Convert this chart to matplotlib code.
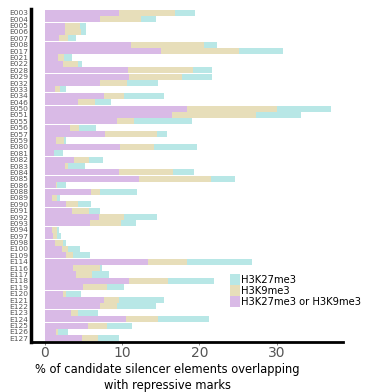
import numpy as np
import matplotlib
matplotlib.use("Agg")
import matplotlib.pyplot as plt
from matplotlib.patches import Patch

# Roadmap epigenomes, listed top to bottom
samples = [
    "E003", "E004", "E005", "E006", "E007", "E008", "E017", "E021", "E022",
    "E028", "E029", "E032", "E033", "E034", "E046", "E050", "E051", "E055",
    "E056", "E057", "E059", "E080", "E081", "E082", "E083", "E084", "E085",
    "E086", "E088", "E089", "E090", "E091", "E092", "E093", "E094", "E097",
    "E098", "E100", "E109", "E114", "E116", "E117", "E118", "E119", "E120",
    "E121", "E122", "E123", "E124", "E125", "E126", "E127",
]

# stacked segment widths (%)
either_mark = [
    9.6, 7.1, 2.6, 2.6, 1.8, 11.1, 15.1, 1.7, 2.3,
    10.7, 10.9, 7.2, 1.3, 7.6, 4.3, 18.4, 16.4, 9.3,
    3.2, 7.8, 1.4, 9.7, 1.2, 3.75, 2.6, 9.6, 12.2,
    1.4, 6.0, 0.9, 2.8, 3.5, 7.0, 5.8, 0.9, 1.0,
    1.3, 2.2, 2.8, 13.3, 3.6, 4.0, 10.9, 5.0, 2.3,
    7.6, 7.1, 3.4, 10.5, 5.6, 1.4, 4.8,
]
h3k9_only = [
    7.3, 5.3, 1.9, 2.1, 1.2, 9.5, 10.0, 0.8, 2.0,
    8.5, 6.8, 3.4, 0.6, 2.6, 2.2, 11.7, 10.9, 2.3,
    1.2, 6.7, 1.1, 4.4, 0.0, 1.95, 0.4, 7.0, 9.3,
    0.15, 1.2, 0.65, 1.5, 2.2, 3.2, 4.0, 0.65, 0.55,
    1.0, 0.8, 0.8, 5.1, 3.6, 2.1, 5.1, 3.0, 0.4,
    2.0, 2.3, 0.9, 4.2, 2.4, 0.3, 2.1,
]
h3k27_only = [
    2.5, 2.0, 0.8, 0.6, 1.0, 1.7, 5.7, 1.0, 0.5,
    2.4, 4.0, 4.1, 0.8, 5.2, 2.0, 6.9, 5.9, 7.4,
    2.2, 1.3, 0.2, 5.6, 1.1, 1.85, 2.2, 2.7, 3.1,
    1.25, 4.7, 0.35, 1.7, 1.4, 4.3, 2.0, 0.25, 0.55,
    0.4, 1.5, 2.2, 8.4, 0.2, 2.2, 5.9, 2.2, 2.0,
    5.8, 5.0, 2.6, 6.6, 3.3, 1.3, 2.7,
]

legend_labels = ["H3K27me3", "H3K9me3", "H3K27me3 or H3K9me3"]
col_k27 = "#b8e7e6"
col_k9 = "#e7deba"
col_or = "#d9bae6"

fig = plt.figure(figsize=(3.92, 3.92), dpi=100)
ax = fig.add_axes([0.079, 0.128, 0.796, 0.849])

y = np.arange(len(samples))
a = np.array(either_mark)
b = np.array(h3k9_only)
c = np.array(h3k27_only)
ax.barh(y, a, height=0.95, color=col_or, linewidth=0)
ax.barh(y, b, left=a, height=0.95, color=col_k9, linewidth=0)
ax.barh(y, c, left=a + b, height=0.95, color=col_k27, linewidth=0)

ax.set_xlim(-1.8, 38.6)
ax.set_ylim(len(samples) - 0.45, -0.6)
ax.set_yticks(y)
ax.set_yticklabels(samples, fontsize=5.4, color="#555555")
ax.set_xticks([0, 10, 20, 30])
ax.tick_params(axis="x", labelsize=10, colors="#555555", length=2, width=0.5, pad=1)
ax.tick_params(axis="y", length=0, pad=2)

for side in ["top", "right"]:
    ax.spines[side].set_visible(False)
ax.spines["left"].set_linewidth(2.5)
ax.spines["bottom"].set_linewidth(2)

fig.text(0.427, 0.037, "% of candidate silencer elements overlapping\nwith repressive marks",
         ha="center", va="center", fontsize=8.3, linespacing=1.25)

handles = [Patch(facecolor=col_k27), Patch(facecolor=col_k9), Patch(facecolor=col_or)]
ax.legend(handles, legend_labels, loc="upper left", bbox_to_anchor=(0.625, 0.215),
          frameon=False, fontsize=7.2, handlelength=1.0, handleheight=1.2,
          handletextpad=0.15, labelspacing=0.05, borderaxespad=0)

fig.savefig("out.png", dpi=100)
